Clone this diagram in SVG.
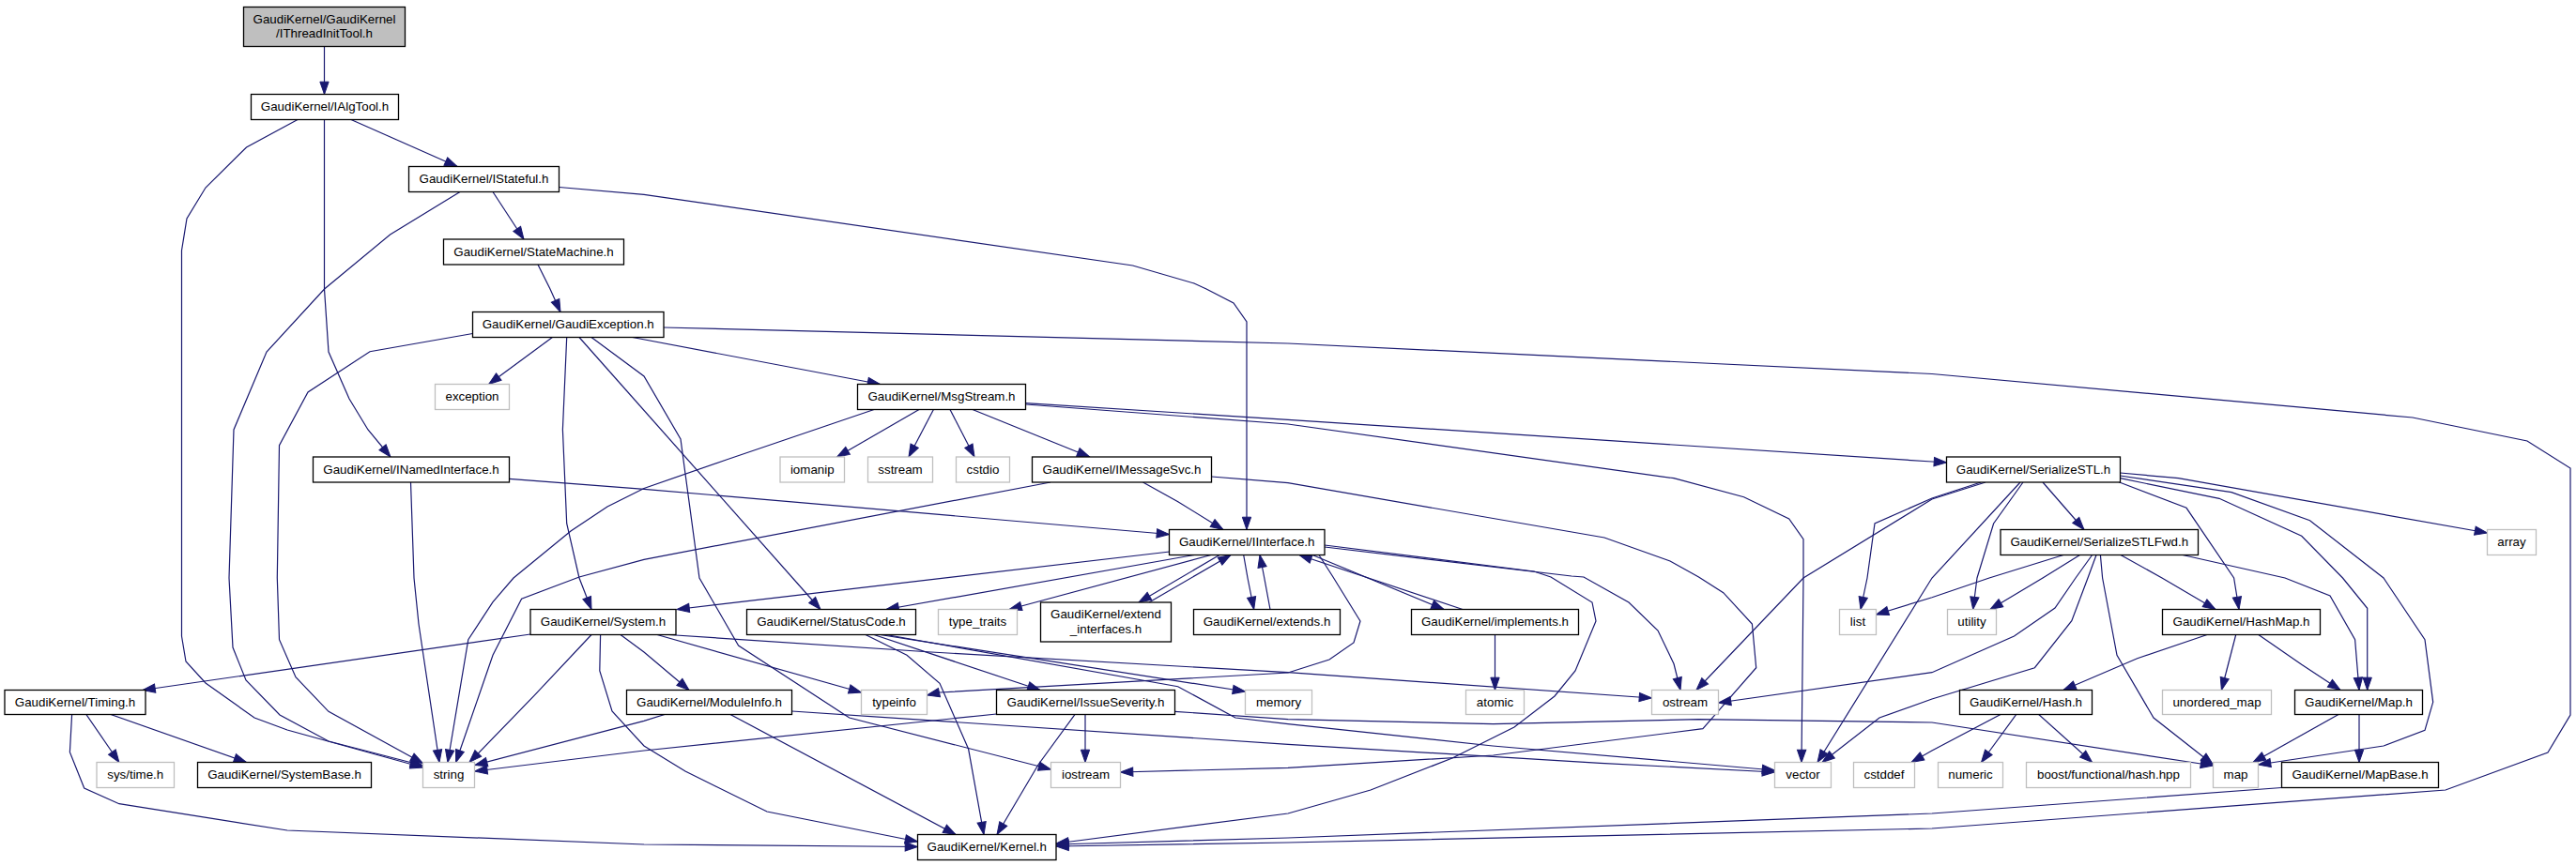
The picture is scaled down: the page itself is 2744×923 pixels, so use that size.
<svg xmlns="http://www.w3.org/2000/svg" width="2744" height="923" viewBox="0 0 2744 923">
<style>
.nd rect{fill:#fff;stroke:#000;stroke-width:1.3}
.ext rect{fill:#fff;stroke:#bfbfbf;stroke-width:1.3}
.root rect{fill:#bfbfbf;stroke:#000;stroke-width:1.3}
text{font-family:"Liberation Sans",Arial,Helvetica,sans-serif;font-size:13.33px;text-anchor:middle;fill:#000}
.e path{fill:none;stroke:#191970;stroke-width:1.2;marker-end:url(#a)}
</style>
<defs>
<marker id="a" markerUnits="userSpaceOnUse" markerWidth="14" markerHeight="10" viewBox="0 0 14 10" refX="13.3" refY="5" orient="auto" overflow="visible">
<path d="M0,0.35 L13.3,5 L0,9.65 z" fill="#191970" stroke="#191970" stroke-width="1"/>
</marker>
</defs>
<rect width="2744" height="923" fill="#fff"/>
<g id="edges" class="e">
<path d="M345.5,49.5 L345.5,100.5"/>
<path d="M374,127.5 L487,177.5"/>
<path d="M345.5,127.5 L345.5,308 L350,375 L372,425 L392,458 L416,487"/>
<path d="M317,127.5 L262.5,157 L219,200 L199,233 L193.5,267 L193.5,678 L198,705 L219,728 L271,765 L306,778 L450.5,818"/>
<path d="M525,204.5 L558,255"/>
<path d="M490,204.5 L415.6,250 L345.6,308 L284,375 L249,458 L244,616 L248,690 L262,725 L298,762 L350,790 L450.5,816"/>
<path d="M595.5,199.5 L686,207.3 L1206.6,283 L1272,302 L1285,308 L1314,323 L1328,343 L1328,564.5"/>
<path d="M573,282 L586,308 L597,332.5"/>
<path d="M588.4,359.5 L520.6,409.5"/>
<path d="M673.7,359.5 L937.5,409.5"/>
<path d="M603.7,359.5 L599.4,458 L603.7,558 L617,616 L630,649.5"/>
<path d="M617,359.5 L874,649.5"/>
<path d="M630,359.5 L686,401 L725,468 L745,616 L786.6,688 L904.7,765 L1119.5,820"/>
<path d="M503.5,355.5 L394,374.7 L328,418 L297.5,474.7 L295.3,616 L297.5,681.7 L315,721.7 L350,758.3 L450.5,813.5"/>
<path d="M707,349 L1372,366 L2058,398.5 L2570,445 L2692,470 L2738,499 L2738,762 L2714,802 L2605,842 L2058,883 L1372,898 L1125,902"/>
<path d="M979,436.5 L891.6,487"/>
<path d="M994.4,436.5 L968,487"/>
<path d="M1012,436.5 L1038,487"/>
<path d="M1036,436.5 L1160.7,487"/>
<path d="M1092.5,429.7 L1372,447.3 L2058,492 L2073.5,493"/>
<path d="M1092.5,431 L1372,452 L1783,509.7 L1857.6,529.7 L1905.7,553 L1921,574.7 L1921,616 L1919,812.5"/>
<path d="M931,436.5 L774.5,489.7 L686,520.5 L647,540 L608,566 L547,616 L525,641.7 L498.8,681.7 L476.9,812.5"/>
<path d="M437.5,514 L441,616 L446,665 L468,812.5"/>
<path d="M1119,514 L686,596.3 L617,615 L555.6,638.3 L525,698.3 L485.6,812.5"/>
<path d="M542.5,510.3 L686,521.3 L1245.5,569.5"/>
<path d="M1217.5,514 L1254.8,534.7 L1302.9,564.5"/>
<path d="M1290.6,508 L1372,514.7 L1709,573 L1779,598 L1809.5,615 L1835.7,631.7 L1866.4,665 L1870.7,711.7 L1813.9,776.7 L1590.7,805 L1372,818.3 L1193.5,823"/>
<path d="M1246,588 L721,649.5"/>
<path d="M1272,591.5 L944,649.5"/>
<path d="M1290,591.5 L1075,649.5"/>
<path d="M1299,591.5 L1213,642"/>
<path d="M1224,642 L1311,591.5"/>
<path d="M1324.7,591.5 L1329,616 L1335.7,649.5"/>
<path d="M1353,649.5 L1346.6,615 L1342,591.5"/>
<path d="M1398,591.5 L1538,649.5"/>
<path d="M1558,649.5 L1384,591.5"/>
<path d="M1405,591.5 L1420,615 L1449,662 L1442,685 L1416,703 L1372,717 L1001,738 L987.5,741"/>
<path d="M1411,583 L1674,614 L1687,615 L1735,642 L1766,672 L1783,707.5 L1790,735.5"/>
<path d="M1411,581 L1634,609 L1652,615 L1696,642 L1700,662 L1678,715 L1656,742 L1613,775 L1547,808 L1460,842 L1372,867 L1125,899"/>
<path d="M565,676 L152,735.5"/>
<path d="M630,676.5 L568.8,741.7 L500,812.5"/>
<path d="M661,676.5 L686,695 L734,735.5"/>
<path d="M639.6,676.5 L638.8,715 L652,758 L686,795 L730,822 L817,865 L977.5,897"/>
<path d="M700,676.5 L917.5,738"/>
<path d="M712,676.5 L992,695 L1372,716.7 L1759.5,744"/>
<path d="M91.9,761.5 L126.9,812.5"/>
<path d="M118,761.5 L262.5,812.5"/>
<path d="M76.6,761.5 L74.4,801.7 L89.7,840 L126.9,856.7 L306,885 L686,900 L977.5,902.5"/>
<path d="M708,761.5 L686,768.3 L505.8,815.5"/>
<path d="M778,761.5 L1018,889.5"/>
<path d="M843.5,758 L1372,793.3 L1704.5,813.3 L1890.5,823"/>
<path d="M922,676.5 L966,698.3 L1001,728.3 L1031.6,798.3 L1048,889.5"/>
<path d="M931,676.5 L1108,735.5"/>
<path d="M937.5,676.5 L1326.5,737"/>
<path d="M944,676.5 L1254.7,731.7 L1316,765 L1372,771.7 L1590,795 L1890.5,821"/>
<path d="M1156,761.5 L1156,812.5"/>
<path d="M1145,761.5 L1106,815 L1062,889.5"/>
<path d="M1061.5,761 L686,800 L505.8,822"/>
<path d="M1251.3,758.3 L1372,766.7 L1590.7,771.7 L1809.5,766.7 L2058,770 L2357.5,816"/>
<path d="M1592.5,676.5 L1592.5,735.5"/>
<path d="M2176,514 L2220,564.5"/>
<path d="M2115,514 L2058,532 L1921,616 L1807,735.5"/>
<path d="M2110,514 L2058,531 L1997,558 L1989,616 L1982,649.5"/>
<path d="M2152,514 L2058,616 L1936,812.5"/>
<path d="M2155,514 L2123.6,558 L2106,616 L2101.7,649.5"/>
<path d="M2257,513.7 L2329,541.3 L2379.6,616 L2385,649.5"/>
<path d="M2258.4,509.7 L2364,531.3 L2451.7,571.3 L2495.5,616 L2521.7,648.3 L2521.7,735.5"/>
<path d="M2258.4,507 L2377,524.7 L2460.5,554.7 L2539,616 L2583,681.7 L2591.7,748.3 L2583,778.3 L2539,795 L2405.5,815"/>
<path d="M2258.4,504 L2320.5,509.7 L2649.5,568"/>
<path d="M2198,591.5 L2119,616 L2058,636.7 L1998.5,655"/>
<path d="M2215.5,591.5 L2176,616 L2120,649.5"/>
<path d="M2228.6,591.5 L2211,616 L2189,648 L2145.5,678 L2058,716.7 L1830.5,749"/>
<path d="M2233,591.5 L2224,616 L2206.8,661.7 L2167.4,711.7 L2058,745 L2002,765 L1941,812.5"/>
<path d="M2237.4,591.5 L2239.6,616 L2255,698.3 L2294,765 L2357.5,815"/>
<path d="M2259,591.5 L2303,616 L2360,649.5"/>
<path d="M2325,591.5 L2434,616 L2482,635 L2508.6,681.7 L2513,735.5"/>
<path d="M2351,676.5 L2276.7,701.7 L2198,735.5"/>
<path d="M2381.7,676.5 L2366.4,735.5"/>
<path d="M2405.8,676.5 L2451.7,708.3 L2493,735.5"/>
<path d="M2491,761.5 L2400,812.5"/>
<path d="M2513,761.5 L2513,812.5"/>
<path d="M2147.7,761.5 L2110.5,812.5"/>
<path d="M2171.7,761.5 L2228.6,812.5"/>
<path d="M2131,761.5 L2058,800 L2036,812.5"/>
<path d="M2430.5,839.5 L2058,867 L1372,893 L1125,900"/>
</g>
<g id="n_root" class="root"><rect x="259.5" y="7.5" width="172" height="42"/><text x="345.5" y="24.5">GaudiKernel/GaudiKernel</text><text x="345.5" y="40">/IThreadInitTool.h</text></g>
<g id="n_IAlgTool" class="nd"><rect x="267.5" y="100.5" width="157" height="27"/><text x="346" y="118">GaudiKernel/IAlgTool.h</text></g>
<g id="n_IStateful" class="nd"><rect x="435.5" y="177.5" width="160" height="27"/><text x="515.5" y="195">GaudiKernel/IStateful.h</text></g>
<g id="n_StateMachine" class="nd"><rect x="472.5" y="255" width="192" height="27"/><text x="568.5" y="272.5">GaudiKernel/StateMachine.h</text></g>
<g id="n_GaudiException" class="nd"><rect x="503.5" y="332.5" width="203.5" height="27"/><text x="605.25" y="350">GaudiKernel/GaudiException.h</text></g>
<g id="n_exception" class="ext"><rect x="463.5" y="409.5" width="79" height="27"/><text x="503" y="427">exception</text></g>
<g id="n_MsgStream" class="nd"><rect x="913.5" y="409.5" width="179" height="27"/><text x="1003" y="427">GaudiKernel/MsgStream.h</text></g>
<g id="n_INamedInterface" class="nd"><rect x="333.5" y="487" width="209" height="27"/><text x="438" y="504.5">GaudiKernel/INamedInterface.h</text></g>
<g id="n_iomanip" class="ext"><rect x="831" y="487" width="68.5" height="27"/><text x="865.25" y="504.5">iomanip</text></g>
<g id="n_sstream" class="ext"><rect x="924.5" y="487" width="69" height="27"/><text x="959" y="504.5">sstream</text></g>
<g id="n_cstdio" class="ext"><rect x="1018.5" y="487" width="57" height="27"/><text x="1047" y="504.5">cstdio</text></g>
<g id="n_IMessageSvc" class="nd"><rect x="1099.5" y="487" width="191" height="27"/><text x="1195" y="504.5">GaudiKernel/IMessageSvc.h</text></g>
<g id="n_SerializeSTL" class="nd"><rect x="2073.5" y="487" width="185" height="27"/><text x="2166" y="504.5">GaudiKernel/SerializeSTL.h</text></g>
<g id="n_IInterface" class="nd"><rect x="1245.5" y="564.5" width="165.5" height="27"/><text x="1328.25" y="582">GaudiKernel/IInterface.h</text></g>
<g id="n_SerializeSTLFwd" class="nd"><rect x="2131" y="564.5" width="210.5" height="27"/><text x="2236.25" y="582">GaudiKernel/SerializeSTLFwd.h</text></g>
<g id="n_array" class="ext"><rect x="2649.5" y="564.5" width="52" height="27"/><text x="2675.5" y="582">array</text></g>
<g id="n_System" class="nd"><rect x="565" y="649.5" width="155" height="27"/><text x="642.5" y="667">GaudiKernel/System.h</text></g>
<g id="n_StatusCode" class="nd"><rect x="795.5" y="649.5" width="180" height="27"/><text x="885.5" y="667">GaudiKernel/StatusCode.h</text></g>
<g id="n_type_traits" class="ext"><rect x="999.5" y="649.5" width="84" height="27"/><text x="1041.5" y="667">type_traits</text></g>
<g id="n_extend_interfaces" class="nd"><rect x="1108.5" y="642" width="139" height="42"/><text x="1178" y="659">GaudiKernel/extend</text><text x="1178" y="674.5">_interfaces.h</text></g>
<g id="n_extends" class="nd"><rect x="1271.5" y="649.5" width="156" height="27"/><text x="1349.5" y="667">GaudiKernel/extends.h</text></g>
<g id="n_implements" class="nd"><rect x="1503.5" y="649.5" width="178" height="27"/><text x="1592.5" y="667">GaudiKernel/implements.h</text></g>
<g id="n_list" class="ext"><rect x="1959.5" y="649.5" width="39" height="27"/><text x="1979" y="667">list</text></g>
<g id="n_utility" class="ext"><rect x="2074.5" y="649.5" width="52" height="27"/><text x="2100.5" y="667">utility</text></g>
<g id="n_HashMap" class="nd"><rect x="2303.5" y="649.5" width="168" height="27"/><text x="2387.5" y="667">GaudiKernel/HashMap.h</text></g>
<g id="n_Timing" class="nd"><rect x="5" y="735.5" width="150" height="26"/><text x="80" y="752.5">GaudiKernel/Timing.h</text></g>
<g id="n_ModuleInfo" class="nd"><rect x="667.5" y="735.5" width="176" height="26"/><text x="755.5" y="752.5">GaudiKernel/ModuleInfo.h</text></g>
<g id="n_typeinfo" class="ext"><rect x="917.5" y="735.5" width="70" height="26"/><text x="952.5" y="752.5">typeinfo</text></g>
<g id="n_IssueSeverity" class="nd"><rect x="1061.5" y="735.5" width="190" height="26"/><text x="1156.5" y="752.5">GaudiKernel/IssueSeverity.h</text></g>
<g id="n_memory" class="ext"><rect x="1326.5" y="735.5" width="71" height="26"/><text x="1362" y="752.5">memory</text></g>
<g id="n_atomic" class="ext"><rect x="1561.5" y="735.5" width="62" height="26"/><text x="1592.5" y="752.5">atomic</text></g>
<g id="n_ostream" class="ext"><rect x="1759.5" y="735.5" width="71" height="26"/><text x="1795" y="752.5">ostream</text></g>
<g id="n_Hash" class="nd"><rect x="2087.5" y="735.5" width="141" height="26"/><text x="2158" y="752.5">GaudiKernel/Hash.h</text></g>
<g id="n_unordered_map" class="ext"><rect x="2303.5" y="735.5" width="116" height="26"/><text x="2361.5" y="752.5">unordered_map</text></g>
<g id="n_Map" class="nd"><rect x="2444.5" y="735.5" width="136" height="26"/><text x="2512.5" y="752.5">GaudiKernel/Map.h</text></g>
<g id="n_systime" class="ext"><rect x="103" y="812.5" width="82.5" height="27"/><text x="144.25" y="830">sys/time.h</text></g>
<g id="n_SystemBase" class="nd"><rect x="210.5" y="812.5" width="185" height="27"/><text x="303" y="830">GaudiKernel/SystemBase.h</text></g>
<g id="n_string" class="ext"><rect x="450.5" y="812.5" width="55" height="27"/><text x="478" y="830">string</text></g>
<g id="n_iostream" class="ext"><rect x="1119.5" y="812.5" width="74" height="27"/><text x="1156.5" y="830">iostream</text></g>
<g id="n_vector" class="ext"><rect x="1890.5" y="812.5" width="60" height="27"/><text x="1920.5" y="830">vector</text></g>
<g id="n_cstddef" class="ext"><rect x="1974.5" y="812.5" width="65" height="27"/><text x="2007" y="830">cstddef</text></g>
<g id="n_numeric" class="ext"><rect x="2064.5" y="812.5" width="69" height="27"/><text x="2099" y="830">numeric</text></g>
<g id="n_boosthash" class="ext"><rect x="2158.5" y="812.5" width="175" height="27"/><text x="2246" y="830">boost/functional/hash.hpp</text></g>
<g id="n_map" class="ext"><rect x="2357.5" y="812.5" width="48" height="27"/><text x="2381.5" y="830">map</text></g>
<g id="n_MapBase" class="nd"><rect x="2430.5" y="812.5" width="167" height="27"/><text x="2514" y="830">GaudiKernel/MapBase.h</text></g>
<g id="n_Kernel" class="nd"><rect x="977.5" y="889.5" width="147.5" height="27"/><text x="1051.25" y="907">GaudiKernel/Kernel.h</text></g>
</svg>
